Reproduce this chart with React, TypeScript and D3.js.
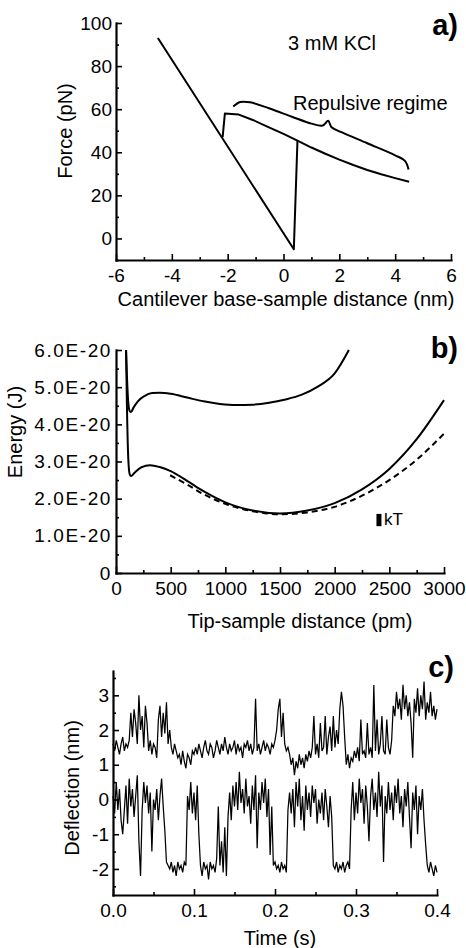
import { useEffect, useRef } from 'react';
import * as d3 from 'd3';

const FONT = '"Liberation Sans", Arial, Helvetica, sans-serif';

// ---- panel a: force (pN) vs cantilever base-sample distance (nm)
const forceApproach: [number, number][] = [[-4.5, 93], [0.37, -5], [0.5, 45.4]];
const forceRepulsive: [number, number][] = [
  [-2.18, 47], [-2.1, 58], [-1.6, 57.5], [-1.1, 55], [-0.6, 52], [0, 48.5], [0.5, 45.4],
  [1, 42.2], [1.5, 39.3], [2, 36.6], [2.5, 34.1], [3, 31.8], [3.5, 29.8], [4, 28], [4.5, 26.3],
];
const braceOutline: [number, number][] = [
  [-1.8, 61.2], [-1.55, 63.3], [-1.2, 63.2], [-0.5, 60.3], [0.3, 56.5], [1.0, 53.3],
  [1.4, 52.4], [1.6, 54.6], [1.72, 51.6], [2.1, 49.2], [3.0, 44.2], [4.0, 38.6],
  [4.35, 36], [4.48, 32],
];
const aXTicks = [-6, -4, -2, 0, 2, 4, 6];
const aYTicks = [0, 20, 40, 60, 80, 100];

// ---- panel b: energy (1E-20 J) vs tip-sample distance (pm)
const energyHigh: [number, number][] = [
  [92, 6.0], [100, 5.3], [112, 4.6], [125, 4.36], [137, 4.33], [160, 4.45], [200, 4.62],
  [260, 4.76], [330, 4.84], [400, 4.85], [500, 4.82], [650, 4.72], [800, 4.62], [950, 4.55],
  [1100, 4.52], [1250, 4.53], [1400, 4.58], [1550, 4.67], [1700, 4.8], [1850, 5.02],
  [2000, 5.37], [2130, 6.0],
];
const energyLow: [number, number][] = [
  [92, 6.0], [100, 4.5], [112, 3.1], [125, 2.66], [137, 2.61], [170, 2.7], [230, 2.84],
  [312, 2.9], [400, 2.85], [500, 2.74], [650, 2.48], [800, 2.2], [1000, 1.9], [1250, 1.68],
  [1500, 1.6], [1750, 1.68], [2000, 1.88], [2250, 2.25], [2500, 2.8], [2750, 3.6], [3000, 4.65],
];
const energyFit: [number, number][] = [
  [495, 2.63], [650, 2.38], [800, 2.12], [1000, 1.86], [1250, 1.66], [1500, 1.58], [1750, 1.63],
  [2000, 1.78], [2250, 2.08], [2500, 2.5], [2750, 3.05], [3000, 3.75],
];
const kTBar = { x: 2405, from: 1.26, to: 1.59 };
const bXTicks = [0, 500, 1000, 1500, 2000, 2500, 3000];
const bYTicks = [0, 1, 2, 3, 4, 5, 6];
const bYLabels = ['0', '1.0E-20', '2.0E-20', '3.0E-20', '4.0E-20', '5.0E-20', '6.0E-20'];

// ---- panel c: deflection (nm) vs time (s), sampled every 2 ms
const sampleStep = 0.002;
const deflUpper = [
  1.6, 1.4, 1.7, 1.5, 1.3, 1.6, 1.8, 1.4, 1.6, 1.5,
  1.7, 2.5, 1.8, 2.6, 2.2, 1.6, 3.0, 2.0, 2.4, 1.5,
  2.7, 2.2, 1.4, 1.7, 1.3, 1.6, 1.5, 1.2, 2.3, 2.7,
  1.8, 2.5, 1.9, 2.8, 1.6, 2.0, 1.5, 1.3, 1.6, 1.4,
  1.2, 1.3, 1.0, 1.4, 1.1, 0.9, 1.3, 1.2, 1.0, 1.4,
  1.3, 1.5, 1.3, 1.6, 1.4, 1.2, 1.5, 1.7, 1.4, 1.3,
  1.6, 1.5, 1.2, 1.4, 1.7, 1.5, 1.3, 1.6, 1.4, 1.8,
  1.5, 1.3, 1.6, 1.4, 1.5, 1.7, 1.3, 1.6, 1.4, 1.5,
  1.2, 1.6, 1.5, 1.7, 1.4, 1.6, 1.3, 1.5, 2.9, 1.4,
  1.6, 1.3, 1.5, 1.7, 1.4, 1.6, 1.5, 1.3, 1.6, 1.5,
  1.7, 2.0, 2.6, 2.9, 1.8, 2.5, 1.6, 1.4, 1.5, 1.3,
  1.0, 1.2, 0.7, 1.1, 0.9, 1.3, 1.0, 1.2, 0.9, 1.3,
  1.1, 1.4, 1.2, 1.5, 2.4, 1.3, 1.6, 1.2, 2.2, 1.4,
  1.5, 2.4, 1.3, 1.8, 2.1, 1.4, 2.4, 1.5, 2.0, 1.6,
  2.6, 3.1, 2.7, 1.8, 1.0, 1.3, 0.9, 1.2, 1.1, 1.4,
  1.2, 1.5, 1.1, 2.3, 1.3, 1.4, 1.2, 2.2, 1.3, 1.5,
  1.2, 3.3, 1.4, 2.3, 1.3, 1.6, 2.4, 1.4, 1.3, 2.3,
  1.5, 1.3, 1.7, 2.7, 2.4, 3.1, 2.6, 2.9, 2.3, 3.3,
  2.6, 3.0, 2.4, 2.8, 2.2, 1.2, 2.9, 2.5, 3.2, 2.4,
  3.0, 2.6, 3.4, 2.3, 2.8, 2.5, 3.1, 2.4, 2.7, 2.3,
  2.6,
];
const deflLower = [
  0.1, -0.4, 0.5, -0.3, 0.3, -0.6, -1.0, -0.3, 0.4, -0.7,
  0.6, -0.2, 0.3, -0.5, 0.1, 0.7, -1.2, -2.2, -0.3, 0.5,
  -0.1, 0.4, -0.4, 0.2, -1.5, 0.0, -0.3, 0.3, -0.6, 0.1,
  0.6, -0.2, -0.9, -1.8, -1.9, -2.0, -1.8, -2.1, -1.9, -2.2,
  -1.8, -2.0, -1.9, -2.1, -1.8, -1.9, 0.1, -0.3, 0.5, -0.4,
  0.2, -0.6, 0.4, -1.0, -1.9, -2.2, -1.8, -2.0, -1.9, -2.3,
  -1.8, -2.0, -1.9, -2.1, -1.7, -0.2, -1.9, -1.2, -2.1, -0.8,
  -2.2, -0.5, 0.2, -0.6, 0.4, -0.2, 0.5, -0.3, 0.8, -0.1,
  0.3, -0.4, 0.6, -0.2, 0.1, -0.7, 0.4, -0.3, 0.7, -1.4,
  0.2, -0.3, 0.5, -0.1, 0.6, -0.5, 0.3, -1.6, -0.2, -1.9,
  -1.8, -2.0, -1.9, -2.1, -1.8, -2.0, -1.9, -2.1, -0.3, 0.2,
  -0.4, 0.3, -0.8, 0.5, -0.2, 0.6, -0.6, 0.1, -0.9, 0.4,
  -0.3, 0.2, -0.5, 0.4, -0.1, 0.3, -0.7, 0.0, -0.4, 0.2,
  -0.6, 0.3, -0.2, -0.8, 0.1, -0.5, -1.9, -2.0, -1.8, -2.1,
  -1.9, -2.0, -1.8, -2.1, -1.9, -1.8, -2.0, -0.3, 0.5, -0.6,
  0.2, -0.4, 0.6, -0.1, 0.3, -0.7, 0.4, -0.2, -1.2, 0.1,
  0.6, -0.3, 0.2, -0.5, 0.8, -0.2, 0.4, -1.8, 0.1, -0.4,
  0.5, -0.3, 0.2, -0.6, 0.4, -0.1, 0.6, -0.4, 0.1, -0.8,
  0.3, -0.2, 0.5, -0.5, -1.4, 0.2, -0.3, 0.4, -1.0, 0.1,
  -0.3, 0.3, -0.6, -1.3, -1.9, -2.1, -1.8, -2.0, -2.2, -1.9,
  -2.1,
];
const cXTicks = [0, 0.1, 0.2, 0.3, 0.4];
const cYTicks = [-2, -1, 0, 1, 2, 3];

type Lin = d3.ScaleLinear<number, number>;
type Sel = d3.Selection<SVGSVGElement, unknown, null, undefined>;

function drawAxes(
  svg: Sel, x: Lin, y: Lin,
  o: { xt: number[]; xl: (v: number, i: number) => string; xm: number[];
       yt: number[]; yl: (v: number, i: number) => string; ym: number[]; ySpacing?: number },
) {
  const y0 = y.range()[0];
  const x0 = x.range()[0];
  const style = (g: d3.Selection<SVGGElement, unknown, null, undefined>) => {
    g.attr('font-size', 19).attr('font-family', FONT);
    g.selectAll('.domain').attr('stroke', '#000').attr('stroke-width', 2.2).attr('stroke-linecap', 'square');
    g.selectAll('.tick line').attr('stroke', '#000').attr('stroke-width', 1.6);
    g.selectAll('.tick text').attr('fill', '#000');
  };
  // minor ticks
  svg.append('g').attr('transform', `translate(0,${y0})`)
    .call(d3.axisBottom(x).tickValues(o.xm).tickSize(-3).tickFormat(() => ''))
    .call(g => { g.select('.domain').remove(); style(g); });
  svg.append('g').attr('transform', `translate(${x0},0)`)
    .call(d3.axisLeft(y).tickValues(o.ym).tickSize(-3).tickFormat(() => ''))
    .call(g => { g.select('.domain').remove(); style(g); });
  // major ticks + labels
  svg.append('g').attr('transform', `translate(0,${y0})`)
    .call(d3.axisBottom(x).tickValues(o.xt).tickSize(-6).tickSizeOuter(0).tickPadding(9)
      .tickFormat((d, i) => o.xl(+d, i)))
    .call(style);
  svg.append('g').attr('transform', `translate(${x0},0)`)
    .call(d3.axisLeft(y).tickValues(o.yt).tickSize(-6).tickSizeOuter(0).tickPadding(4)
      .tickFormat((d, i) => o.yl(+d, i)))
    .call(style)
    .call(g => g.selectAll('.tick text').attr('letter-spacing', o.ySpacing ?? 0));
}

function label(svg: Sel, text: string, x: number, y: number,
  opts: { size?: number; anchor?: string; rotate?: boolean; bold?: boolean } = {}) {
  svg.append('text')
    .attr('x', opts.rotate ? 0 : x).attr('y', opts.rotate ? 0 : y)
    .attr('transform', opts.rotate ? `translate(${x},${y}) rotate(-90)` : null)
    .attr('text-anchor', opts.anchor ?? 'middle')
    .attr('font-family', FONT)
    .attr('font-size', opts.size ?? 20)
    .attr('font-weight', opts.bold ? 'bold' : 'normal')
    .attr('fill', '#000')
    .text(text);
}

export default function App() {
  const svgRef = useRef<SVGSVGElement>(null);

  useEffect(() => {
    const node = svgRef.current;
    if (!node) return;
    const svg = d3.select(node);
    svg.selectAll('*').remove();

    // --- a) ---
    const ax = d3.scaleLinear().domain([-6, 6]).range([116, 451]);
    const ay = d3.scaleLinear().domain([-10, 100]).range([260, 23]);
    const aLine = d3.line<[number, number]>().x(d => ax(d[0])).y(d => ay(d[1]));
    const braceLine = d3.line<[number, number]>().x(d => ax(d[0])).y(d => ay(d[1]))
      .curve(d3.curveCatmullRom.alpha(0.5));
    drawAxes(svg, ax, ay, {
      xt: aXTicks, xl: v => String(v), xm: d3.range(-5, 6, 2),
      yt: aYTicks, yl: v => String(v), ym: [-10, 10, 30, 50, 70, 90],
    });
    for (const pts of [forceApproach, forceRepulsive]) {
      svg.append('path').attr('d', aLine(pts)).attr('fill', 'none')
        .attr('stroke', '#000').attr('stroke-width', 2).attr('stroke-linejoin', 'round');
    }
    svg.append('path').attr('d', braceLine(braceOutline)).attr('fill', 'none')
      .attr('stroke', '#000').attr('stroke-width', 2);
    label(svg, '3 mM KCl', 332, 50);
    label(svg, 'Repulsive regime', 293, 110, { anchor: 'start' });
    label(svg, 'a)', 458, 35, { size: 29, anchor: 'end', bold: true });
    label(svg, 'Cantilever base-sample distance (nm)', 286, 306);
    label(svg, 'Force (pN)', 72, 131, { rotate: true });

    // --- b) ---
    const bx = d3.scaleLinear().domain([0, 3000]).range([116, 444]);
    const by = d3.scaleLinear().domain([0, 6]).range([573, 350]);
    const bLine = d3.line<[number, number]>().x(d => bx(d[0])).y(d => by(d[1]))
      .curve(d3.curveMonotoneX);
    drawAxes(svg, bx, by, {
      xt: bXTicks, xl: v => String(v), xm: d3.range(250, 3000, 500),
      yt: bYTicks, yl: (_, i) => bYLabels[i], ym: d3.range(0.5, 6, 1), ySpacing: 1.6,
    });
    svg.append('path').attr('d', bLine(energyHigh)).attr('fill', 'none')
      .attr('stroke', '#000').attr('stroke-width', 2);
    svg.append('path').attr('d', bLine(energyLow)).attr('fill', 'none')
      .attr('stroke', '#000').attr('stroke-width', 2);
    svg.append('path').attr('d', bLine(energyFit)).attr('fill', 'none')
      .attr('stroke', '#000').attr('stroke-width', 2).attr('stroke-dasharray', '6,4');
    svg.append('rect').attr('x', bx(kTBar.x) - 2.5).attr('width', 5)
      .attr('y', by(kTBar.to)).attr('height', by(kTBar.from) - by(kTBar.to)).attr('fill', '#000');
    label(svg, 'kT', bx(kTBar.x) + 5, by(kTBar.from) - 1, { size: 17, anchor: 'start' });
    label(svg, 'b)', 458, 358, { size: 29, anchor: 'end', bold: true });
    label(svg, 'Tip-sample distance (pm)', 300, 628);
    label(svg, 'Energy (J)', 22, 432, { rotate: true });

    // --- c) ---
    const cx = d3.scaleLinear().domain([0, 0.4]).range([113, 437]);
    const cy = d3.scaleLinear().domain([-2.75, 3.7]).range([895, 671]);
    const cLine = d3.line<number>().x((_, i) => cx(i * sampleStep)).y(d => cy(d));
    drawAxes(svg, cx, cy, {
      xt: cXTicks, xl: v => v.toFixed(1), xm: [0.05, 0.15, 0.25, 0.35],
      yt: cYTicks, yl: v => String(v), ym: d3.range(-2.5, 3.6, 1),
    });
    for (const trace of [deflUpper, deflLower]) {
      svg.append('path').attr('d', cLine(trace)).attr('fill', 'none')
        .attr('stroke', '#000').attr('stroke-width', 1.25).attr('stroke-linejoin', 'miter');
    }
    label(svg, 'c)', 454, 677, { size: 29, anchor: 'end', bold: true });
    label(svg, 'Time (s)', 280, 945);
    label(svg, 'Deflection (nm)', 79, 788, { rotate: true });
  }, []);

  return (
    <div style={{ position: 'absolute', left: 0, top: 0, width: 466, height: 948, background: '#fff' }}>
      <svg ref={svgRef} width={466} height={948} style={{ display: 'block' }} />
    </div>
  );
}
